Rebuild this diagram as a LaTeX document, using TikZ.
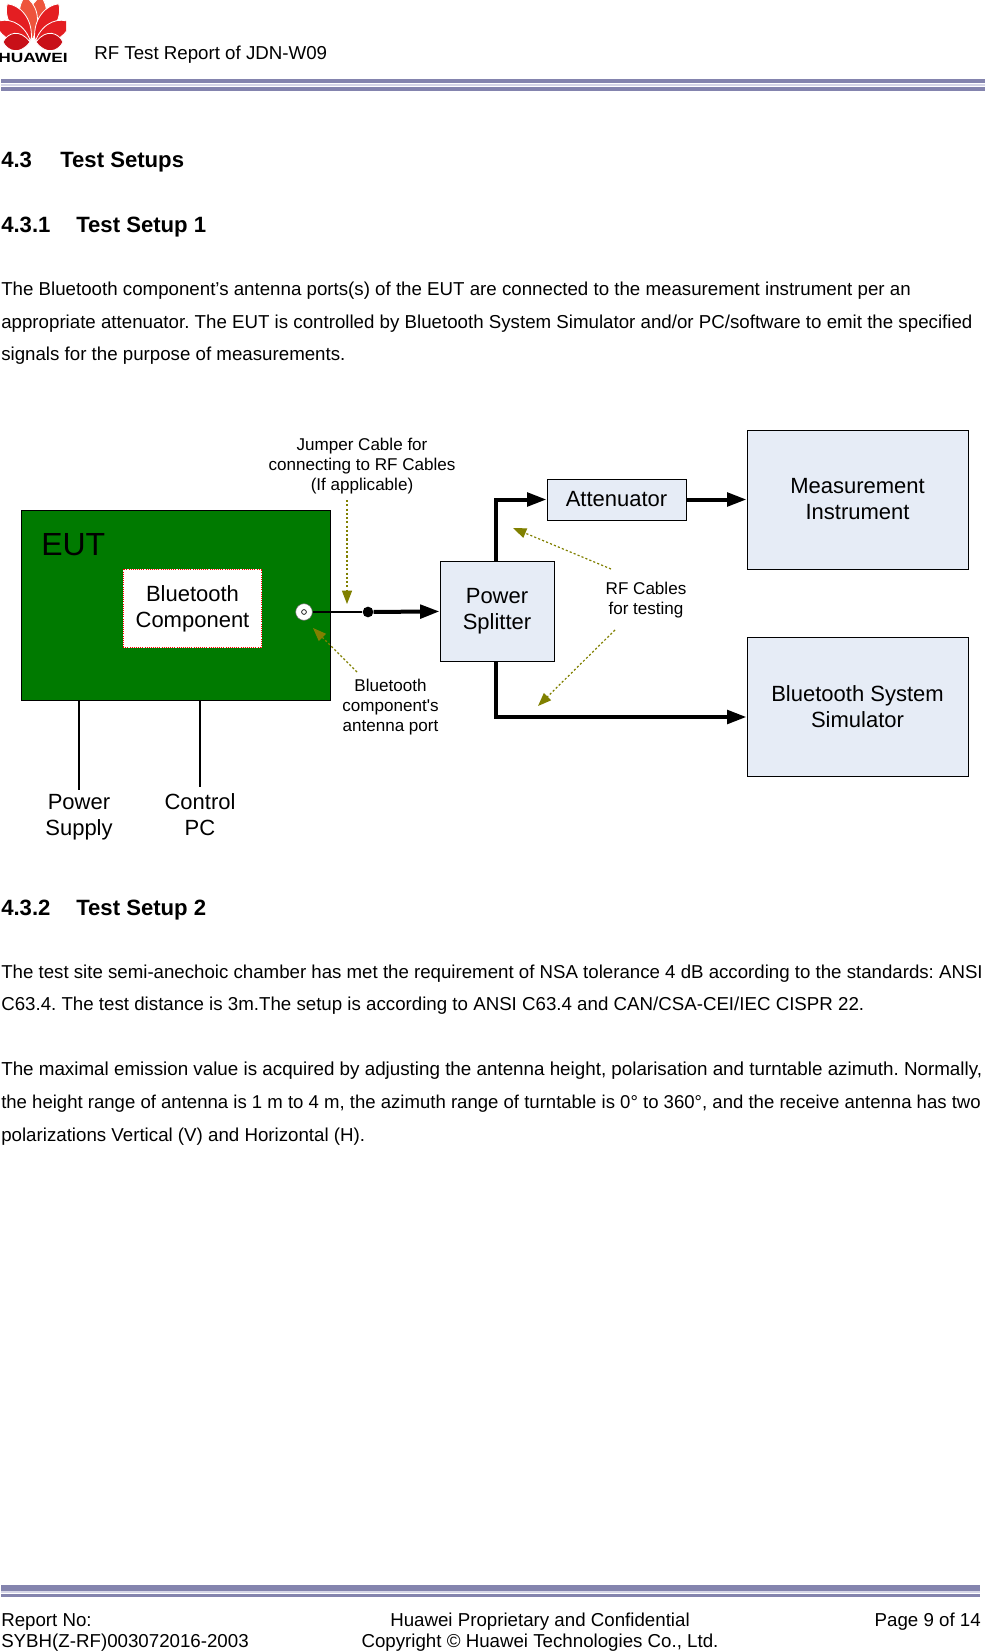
\documentclass[tikz,border=0pt]{standalone}
\usepackage{fontspec}
\setmainfont{Liberation Sans}
\newfontfamily\apofont{Liberation Sans}
\usetikzlibrary{positioning, arrows.meta}

\definecolor{eutgreen}{RGB}{0,122,0}
\definecolor{boxblue}{RGB}{230,236,246}
\definecolor{noteolive}{RGB}{128,128,0}
\definecolor{barblue}{RGB}{132,132,174}
\definecolor{barlight}{RGB}{214,214,232}
\definecolor{petalone}{RGB}{238,84,60}
\definecolor{petaltwo}{RGB}{228,30,34}
\definecolor{petalthree}{RGB}{200,16,24}

\begin{document}
\begin{tikzpicture}[
    x=0.75pt, y=-0.75pt,
    >={Triangle[length=14.5pt, width=10pt]},
    box/.style={draw, fill=boxblue, line width=0.75pt, align=center, inner sep=0pt,
                font=\fontsize{16.5}{19.5}\selectfont},
    lbl/.style={align=center, inner sep=0pt,
                font=\fontsize{12.8}{14.9}\selectfont},
    big/.style={align=center, inner sep=0pt,
                font=\fontsize{16.5}{19.5}\selectfont},
    txt/.style={anchor=base west, inner sep=0pt, font=\fontsize{14.03}{14}\selectfont\frenchspacing},
    fitted/.style={txt, font=\fontsize{#1}{14}\selectfont\frenchspacing},
    head/.style={anchor=base west, inner sep=0pt, font=\fontsize{16.6}{16.6}\selectfont\bfseries},
    foot/.style={inner sep=0pt, font=\fontsize{14.03}{14}\selectfont},
    cable/.style={line width=3pt, ->},
    wire/.style={line width=1.2pt},
    note/.style={draw=noteolive, line width=0.9pt, dash pattern=on 1.6pt off 1.6pt,
                 -{Triangle[length=10pt, width=7.5pt, fill=noteolive]}},
    bar/.style={draw=barblue, line width=3.2pt},
    barin/.style={draw=barlight, line width=2pt},
    petal/.style={draw=white, line width=0.6pt},
  ]
  \useasboundingbox (0,0) rectangle (985,1651);

  % ============ Page header ============
  \begin{scope}[shift={(33,42)}]
    \clip (-33,-42) rectangle (33,8);
    \foreach \ang/\len/\col in {-10/46/petalone, 10/46/petalone, -34/46/petaltwo, 34/46/petaltwo,
                                -62/42/petaltwo, 62/42/petaltwo, -90/30/petalthree, 90/30/petalthree} {
      \filldraw[petal, fill=\col, rotate=\ang] (0,-3) .. controls (-14,-\len*0.45) and (-9,-\len*0.85) .. (0,-\len)
        .. controls (9,-\len*0.85) and (14,-\len*0.45) .. (0,-3);
    }
  \end{scope}
  \node[inner sep=0pt, font=\fontsize{10}{10}\selectfont\bfseries\addfontfeature{FakeStretch=1.3}] (logotext) at (33,58) {HUAWEI};
  \node[txt] (title) at (94,60) {RF Test Report of JDN-W09};
  \coordinate (hdl) at (1,81);
  \coordinate (hdr) at (985,81);
  \draw[barin] ([yshift=-3pt]hdl) -- ([yshift=-3pt]hdr);
  \draw[bar] (hdl) -- (hdr);
  \draw[bar, line width=2.5pt] ([yshift=-6pt]hdl) -- ([yshift=-6pt]hdr);

  % ============ Section text ============
  \node[head] (h43) at (1,168) {4.3};
  \node[head] (h43t) at (60,168) {Test Setups};
  \node[head] (h431) at (1,233) {4.3.1};
  \node[head] (h431t) at (76,233) {Test Setup 1};
  \node[txt] (p1a) at (1,296) {The Bluetooth component’s antenna ports(s) of the EUT are connected to the measurement instrument per an};
  \node[txt] (p1b) at (1,329) {appropriate attenuator. The EUT is controlled by Bluetooth System Simulator and/or PC/software to emit the specified};
  \node[txt] (p1c) at (1,360) {signals for the purpose of measurements.};

  % ============ Boxes ============
  \node[draw, fill=eutgreen, line width=0.75pt, minimum width=232pt, minimum height=141.8pt,
        inner sep=0pt] (eut) at (176,605.5) {};
  \node[inner sep=0pt, anchor=base west, font=\fontsize{24}{24}\selectfont] (eutlab) at (41,555) {EUT};
  \node[draw=red, densely dotted, fill=white, line width=0.6pt, align=center,
        minimum width=104pt, minimum height=59pt, inner sep=0pt,
        font=\fontsize{16.5}{19.5}\selectfont] (comp) at (192.5,608.5) {Bluetooth\\Component};
  \node[draw=black!60, fill=white, circle, minimum size=12.5pt, inner sep=0pt, line width=0.4pt] (port) at (304,612) {};
  \node[draw=black, circle, minimum size=3.6pt, inner sep=0pt, line width=0.5pt] (portin) at (304,612) {};
  \node[fill=black, circle, minimum size=8pt, inner sep=0pt] (joint) at (368,612) {};

  \node[box, minimum width=85.5pt, minimum height=75pt] (split) at (497,611) {Power\\Splitter};
  \node[box, minimum width=104.25pt, minimum height=30.75pt] (att) at (616.5,499.5) {Attenuator};
  \node[box, minimum width=165.75pt, minimum height=104.25pt] (meas) at (857.5,499.5) {Measurement\\Instrument};
  \node[box, minimum width=165.75pt, minimum height=104.25pt] (sim) at (857.5,707) {Bluetooth System\\Simulator};

  \node[big] (psu) at (79,817) {Power\\Supply};
  \node[big] (pc) at (200,815) {Control\\PC};

  % ============ Notes ============
  \node[lbl] (jump) at (362,466) {Jumper Cable for\\connecting to RF Cables\\(If applicable)};
  \node[lbl] (btport) at (390.5,707) {Bluetooth\\component{\apofont'}s\\antenna port};
  \node[lbl] (rf) at (646,600.5) {RF Cables\\for testing};

  % ============ Connections ============
  \draw[wire] (port) -- (joint);
  \draw[cable] (joint) -- (split);
  \draw[cable] ([xshift=-0.75pt]split.north) |- (att.west);
  \draw[cable] (att.east) -- (meas.west);
  \draw[cable] ([xshift=-0.75pt]split.south) |- ([yshift=-7.5pt]sim.west);
  \draw[wire, shorten >=3pt] (eut.south -| psu.north) -- (psu.north);
  \draw[wire, shorten >=5pt] (eut.south -| pc.north) -- (pc.north);

  \coordinate (jumpstart) at (347,500);
  \coordinate (jumpend) at (347,604);
  \coordinate (btstart) at (357,672);
  \coordinate (portend) at (313,628);
  \coordinate (rfup) at (611,569);
  \coordinate (attend) at (513,528);
  \coordinate (rfdown) at (615,630);
  \coordinate (simend) at (538,706);
  \draw[note] (jumpstart) -- (jumpend);
  \draw[note] (btstart) -- (portend);
  \draw[note] (rfup) -- (attend);
  \draw[note] (rfdown) -- (simend);

  % ============ Setup 2 text ============
  \node[head] (h432) at (1,915) {4.3.2};
  \node[head] (h432t) at (76,915) {Test Setup 2};
  \node[fitted=14] (p2a) at (1,978) {The test site semi-anechoic chamber has met the requirement of NSA tolerance 4 dB according to the standards: ANSI};
  \node[txt] (p2b) at (1,1010) {C63.4. The test distance is 3m.The setup is according to ANSI C63.4 and CAN/CSA-CEI/IEC CISPR 22.};
  \node[fitted=14.1] (p3a) at (1,1075) {The maximal emission value is acquired by adjusting the antenna height, polarisation and turntable azimuth. Normally,};
  \node[fitted=13.92] (p3b) at (1,1108) {the height range of antenna is 1 m to 4 m, the azimuth range of turntable is 0° to 360°, and the receive antenna has two};
  \node[txt] (p3c) at (1,1141) {polarizations Vertical (V) and Horizontal (H).};

  % ============ Page footer ============
  \coordinate (ftl) at (1,1588);
  \coordinate (ftr) at (980,1588);
  \draw[barin] ([yshift=-3pt]ftl) -- ([yshift=-3pt]ftr);
  \draw[bar, line width=4.2pt] (ftl) -- (ftr);
  \draw[bar, line width=2.5pt] ([yshift=-5.8pt]ftl) -- ([yshift=-5.8pt]ftr);
  \node[foot, anchor=base west] (repno) at (1,1626) {Report No:};
  \node[foot, anchor=base west] (sybh) at (1,1647) {SYBH(Z-RF)003072016-2003};
  \node[foot, anchor=base] (prop) at (540,1626) {Huawei Proprietary and Confidential};
  \node[foot, anchor=base] (copy) at (540,1647) {Copyright © Huawei Technologies Co., Ltd.};
  \node[foot, anchor=base east] (page) at (981,1626) {Page 9 of 14};
\end{tikzpicture}
\end{document}
